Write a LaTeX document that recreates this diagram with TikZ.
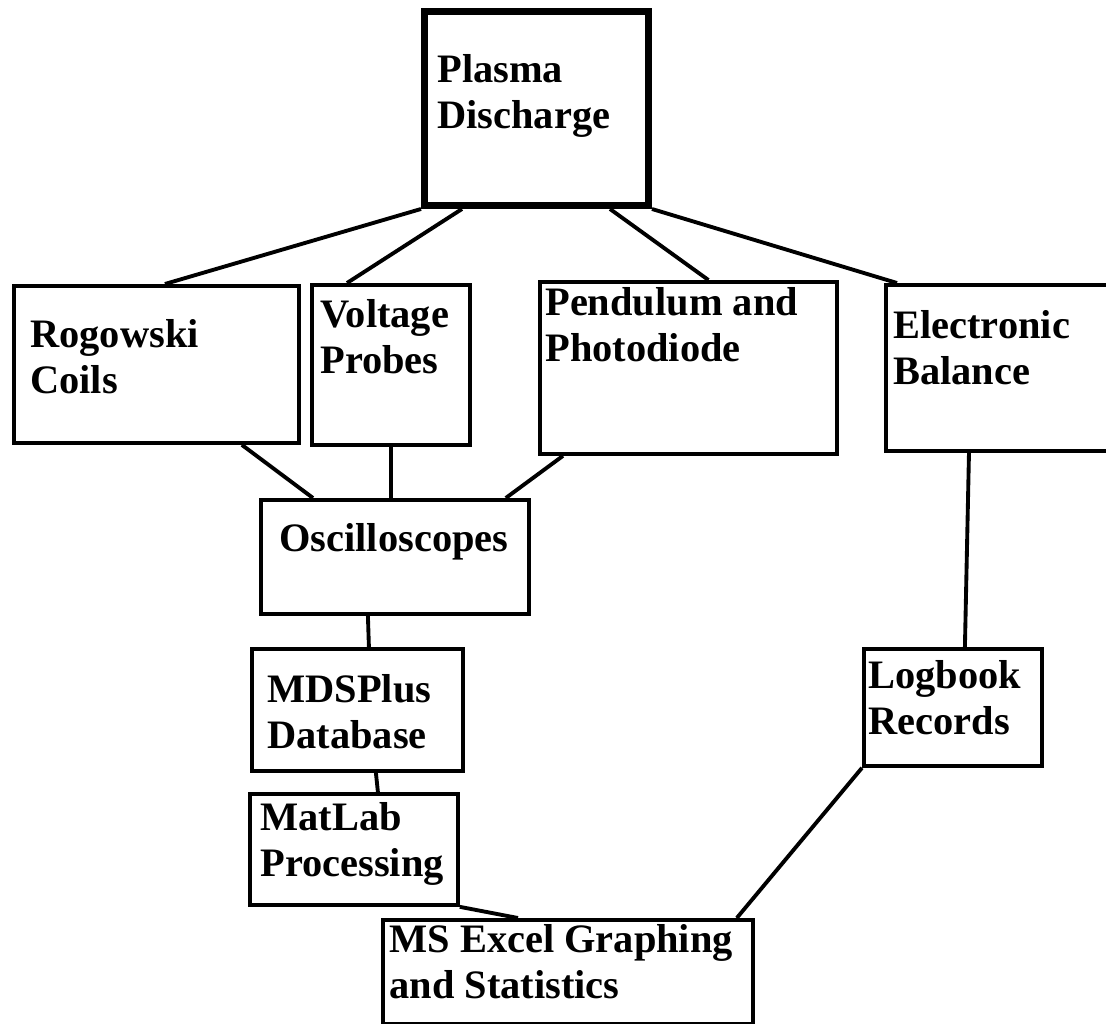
\documentclass[tikz,border=0pt]{standalone}
\usepackage{fontspec}
\setmainfont{Liberation Serif}
\usetikzlibrary{positioning}

\begin{document}
\begin{tikzpicture}[
  x=0.02cm,y=-0.02cm,
  blk/.style={draw,line width=2.2pt,anchor=north west,inner sep=0pt},
  lbl/.style={align=left,inner sep=0pt,font=\fontsize{23pt}{26pt}\selectfont\bfseries},
  link/.style={line width=2.2pt}
]
\useasboundingbox (0,0) rectangle (1106,1024);
% boxes
\node[blk,line width=4pt,minimum width=4.48cm,minimum height=3.88cm] (plasma) at (421,8) {};
\node[blk,minimum width=5.70cm,minimum height=3.14cm] (rogowski) at (12,284) {};
\node[blk,minimum width=3.16cm,minimum height=3.20cm] (voltage) at (310,283) {};
\node[blk,minimum width=5.94cm,minimum height=3.44cm] (pendulum) at (538,280) {};
\node[blk,minimum width=4.90cm,minimum height=3.32cm] (balance) at (884,283) {};
\node[blk,minimum width=5.36cm,minimum height=2.28cm] (scopes) at (259,498) {};
\node[blk,minimum width=4.22cm,minimum height=2.44cm] (mdsplus) at (250,647) {};
\node[blk,minimum width=4.16cm,minimum height=2.22cm] (matlab) at (248,792) {};
\node[blk,minimum width=7.40cm,minimum height=2.08cm] (excel) at (381,918) {};
\node[blk,minimum width=3.56cm,minimum height=2.34cm] (logbook) at (862,647) {};

% texts
\node[lbl,below right=0.93cm and 0.32cm of plasma.north west] (plasmaTxt) {Plasma\\Discharge};
\node[lbl,below right=0.71cm and 0.36cm of rogowski.north west] (rogowskiTxt) {Rogowski\\Coils};
\node[lbl,below right=0.33cm and 0.20cm of voltage.north west] (voltageTxt) {Voltage\\Probes};
\node[lbl,below right=0.15cm and 0.14cm of pendulum.north west] (pendulumTxt) {Pendulum and\\Photodiode};
\node[lbl,below right=0.55cm and 0.18cm of balance.north west] (balanceTxt) {Electronic\\Balance};
\node[lbl,below right=0.51cm and 0.40cm of scopes.north west] (scopesTxt) {Oscilloscopes};
\node[lbl,below right=0.55cm and 0.34cm of mdsplus.north west] (mdsplusTxt) {MDSPlus\\Database};
\node[lbl,below right=0.21cm and 0.24cm of matlab.north west] (matlabTxt) {MatLab\\Processing};
\node[lbl,below right=0.13cm and 0.16cm of excel.north west] (excelTxt) {MS Excel Graphing\\and Statistics};
\node[lbl,below right=0.27cm and 0.12cm of logbook.north west] (logbookTxt) {Logbook\\Records};

% connectors
\draw[link] (plasma.south west) -- ([xshift=0.17cm]rogowski.north);
\draw[link] ([xshift=0.82cm]plasma.south west) -- ([xshift=0.74cm]voltage.north west);
\draw[link] ([xshift=-0.84cm]plasma.south east) -- ([xshift=0.40cm]pendulum.north);
\draw[link] (plasma.south east) -- ([xshift=0.26cm]balance.north west);
\draw[link] ([xshift=-1.18cm]rogowski.south east) -- ([xshift=1.08cm]scopes.north west);
\draw[link] (voltage.south) -- (voltage.south |- scopes.north);
\draw[link] ([xshift=0.50cm]pendulum.south west) -- ([xshift=-0.50cm]scopes.north east);
\draw[link] ([xshift=-0.54cm]scopes.south) -- ([xshift=0.23cm]mdsplus.north);
\draw[link] ([xshift=0.37cm]mdsplus.south) -- ([xshift=0.48cm]matlab.north);
\draw[link] (matlab.south east) -- ([xshift=2.74cm]excel.north west);
\draw[link] ([xshift=1.70cm]balance.south west) -- ([xshift=0.24cm]logbook.north);
\draw[link] (logbook.south west) -- ([xshift=-0.36cm]excel.north east);
\end{tikzpicture}
\end{document}
